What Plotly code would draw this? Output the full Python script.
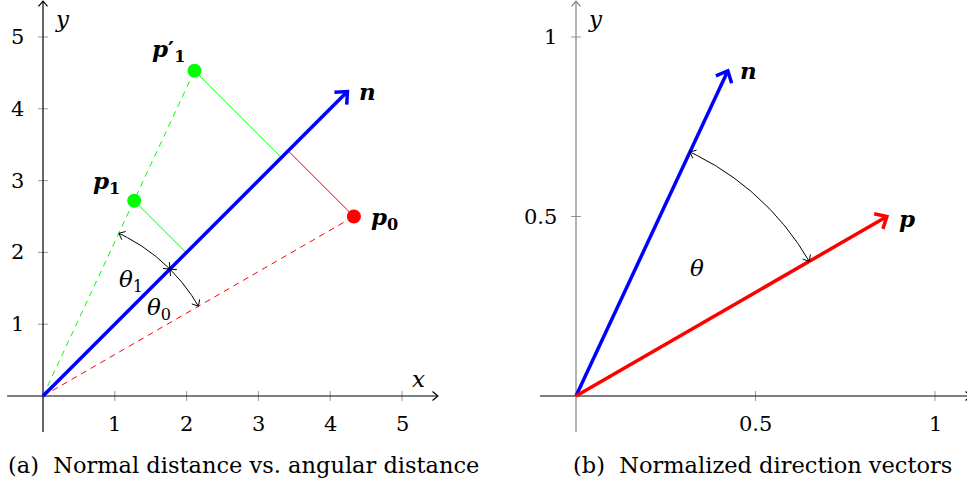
import numpy as np
import plotly.graph_objects as go

# ---------------- data ----------------
# (a) points in the plane and the direction n
p0 = (4.33, 2.50)
p1 = (1.27, 2.72)
p1_prime = (2.11, 4.53)
n_tip = (4.24, 4.24)
arc_radius_a = 2.5
arc_angles_a = [30, 45, 65]          # angle of p0, n, p1 (degrees)
ticks_a = [1, 2, 3, 4, 5]
axis_span_a = (-0.5, 5.5)

# (b) normalized direction vectors
n_hat = (0.423, 0.906)
p_hat = (0.866, 0.500)
arc_radius_b = 0.75
arc_angles_b = [30, 65]
ticks_b = [0.5, 1]
tick_labels_b = ["0.5", "1"]
axis_span_b = (-0.1, 1.1)

captions = ["(a)  Normal distance vs. angular distance",
            "(b)  Normalized direction vectors"]

# ---------------- styling ----------------
W, H = 967, 494
FONT = "DejaVu Serif"
FS = 23            # math labels
FS_TICK = 21
FS_CAP = 22.5
GREEN, RED, BLUE = "#00ff00", "#ff0000", "#0000ff"
GRAY = "#808080"
TICK_GRAY = "#999999"
DASH = "6px,5px"

# pixel layout of each panel: origin and pixels per unit
ORIGIN_A, SCALE_A = (43, 396), 71.8
ORIGIN_B, SCALE_B = (576, 396), 359.0
SPLIT = W / 2


def ranges(origin, scale, left_px, right_px):
    ox, oy = origin
    xr = [(left_px - ox) / scale, (right_px - ox) / scale]
    yr = [-(H - oy) / scale, oy / scale]
    return xr, yr


xr_a, yr_a = ranges(ORIGIN_A, SCALE_A, 0, SPLIT)
xr_b, yr_b = ranges(ORIGIN_B, SCALE_B, SPLIT, W)

fig = go.Figure()


def seg(x, y, xa, ya, color, width, dash="solid"):
    fig.add_trace(go.Scatter(x=x, y=y, xaxis=xa, yaxis=ya, mode="lines",
                             line=dict(color=color, width=width, dash=dash),
                             hoverinfo="skip", showlegend=False, cliponaxis=False))


def arrow_head(tip, ang_deg, length_px, scale, xa, ya, color, width, spread=38):
    """Open V-shaped arrow head at tip, pointing along ang_deg."""
    L = length_px / scale
    back = np.radians(ang_deg + 180)
    s = np.radians(spread)
    a1 = (tip[0] + L * np.cos(back + s), tip[1] + L * np.sin(back + s))
    a2 = (tip[0] + L * np.cos(back - s), tip[1] + L * np.sin(back - s))
    seg([a1[0], tip[0], a2[0]], [a1[1], tip[1], a2[1]], xa, ya, color, width)


def vector(tip, scale, xa, ya, color, width, head_px):
    seg([0, tip[0]], [0, tip[1]], xa, ya, color, width)
    ang = np.degrees(np.arctan2(tip[1], tip[0]))
    arrow_head(tip, ang, head_px, scale, xa, ya, color, width, spread=42)


def arc_both(r, a_from, a_to, scale, xa, ya):
    t = np.radians(np.linspace(a_from, a_to, 60))
    seg(r * np.cos(t), r * np.sin(t), xa, ya, "black", 1)
    sgn = 1 if a_to > a_from else -1
    for a, d in ((a_to, sgn), (a_from, -sgn)):
        tip = (r * np.cos(np.radians(a)), r * np.sin(np.radians(a)))
        arrow_head(tip, a + 90 * d, 7, scale, xa, ya, "black", 1, spread=40)


def text(x, y, s, xref, yref, dx=0, dy=0, anchor="center", size=FS):
    fig.add_annotation(x=x, y=y, xref=xref, yref=yref, text=s, showarrow=False,
                       xanchor=anchor, yanchor="middle", xshift=dx, yshift=dy,
                       font=dict(family=FONT, size=size, color="black"))


def axes(span, ticks, labels, scale, xa, ya, ycolor):
    lo, hi = span
    tl = 5 / scale
    for v in ticks:
        seg([v, v], [-tl, tl], xa, ya, TICK_GRAY, 1)
        seg([-tl, tl], [v, v], xa, ya, TICK_GRAY, 1)
    seg([lo, hi], [0, 0], xa, ya, "black", 1.2)
    arrow_head((hi, 0), 0, 7, scale, xa, ya, "black", 1.2, spread=40)
    seg([0, 0], [lo, hi], xa, ya, ycolor, 1.2)
    arrow_head((0, hi), 90, 7, scale, xa, ya, ycolor, 1.2, spread=40)
    for v, lab in zip(ticks, labels):
        text(v, 0, lab, xa, ya, dy=-28, size=FS_TICK)
        text(0, v, lab, xa, ya, dx=-17, anchor="right", size=FS_TICK)
    text(hi, 0, "<i>x</i>", xa, ya, dx=-19, dy=17)
    text(0, hi, "<i>y</i>", xa, ya, dx=19, dy=-18)


def foot(p, d):
    d = np.asarray(d, float)
    d = d / np.linalg.norm(d)
    return tuple(np.dot(p, d) * d)


# ---------------- panel (a) ----------------
XA, YA = "x", "y"
axes(axis_span_a, ticks_a, [str(t) for t in ticks_a], SCALE_A, XA, YA, "black")

# dashed rays from the origin
seg([0, p1_prime[0]], [0, p1_prime[1]], XA, YA, GREEN, 1, DASH)
seg([0, p0[0]], [0, p0[1]], XA, YA, RED, 1, DASH)

# perpendiculars to n
f0, f1, f1p = foot(p0, n_tip), foot(p1, n_tip), foot(p1_prime, n_tip)
seg([p1[0], f1[0]], [p1[1], f1[1]], XA, YA, GREEN, 1)
seg([p1_prime[0], f1p[0]], [p1_prime[1], f1p[1]], XA, YA, GREEN, 1)
seg([p0[0], f0[0]], [p0[1], f0[1]], XA, YA, RED, 1)

vector(n_tip, SCALE_A, XA, YA, BLUE, 3.5, 13)

# angle arcs
arc_both(arc_radius_a, arc_angles_a[1], arc_angles_a[2], SCALE_A, XA, YA)
arc_both(arc_radius_a, arc_angles_a[1], arc_angles_a[0], SCALE_A, XA, YA)

fig.add_trace(go.Scatter(x=[p1[0], p1_prime[0]], y=[p1[1], p1_prime[1]], xaxis=XA, yaxis=YA,
                         mode="markers", marker=dict(color=GREEN, size=14),
                         hoverinfo="skip", showlegend=False, cliponaxis=False))
fig.add_trace(go.Scatter(x=[p0[0]], y=[p0[1]], xaxis=XA, yaxis=YA,
                         mode="markers", marker=dict(color=RED, size=14),
                         hoverinfo="skip", showlegend=False, cliponaxis=False))

text(*p1_prime, "<b><i>p</i>′</b><sub><b>1</b></sub>", XA, YA, -26, 20)
text(*p1, "<b><i>p</i></b><sub><b>1</b></sub>", XA, YA, -28, 18)
text(*p0, "<b><i>p</i></b><sub><b>0</b></sub>", XA, YA, 31, -2)
text(*n_tip, "<b><i>n</i></b>", XA, YA, 20, 0)

m1 = np.radians((arc_angles_a[1] + arc_angles_a[2]) / 2 - 2)
m0 = np.radians((arc_angles_a[0] + arc_angles_a[1]) / 2)
text(2.0 * np.cos(m1), 2.0 * np.sin(m1), "<i>θ</i><sub>1</sub>", XA, YA, 2, 0)
text(2.0 * np.cos(m0), 2.0 * np.sin(m0), "<i>θ</i><sub>0</sub>", XA, YA, 2, 0)

# ---------------- panel (b) ----------------
XB, YB = "x2", "y2"
axes(axis_span_b, ticks_b, tick_labels_b, SCALE_B, XB, YB, GRAY)

vector(n_hat, SCALE_B, XB, YB, BLUE, 3.5, 13)
vector(p_hat, SCALE_B, XB, YB, RED, 3.5, 13)
arc_both(arc_radius_b, arc_angles_b[0], arc_angles_b[1], SCALE_B, XB, YB)

text(*n_hat, "<b><i>n</i></b>", XB, YB, 21, 0)
text(*p_hat, "<b><i>p</i></b>", XB, YB, 20, -2)
mb = np.radians(sum(arc_angles_b) / 2 - 1)
text(0.49 * np.cos(mb), 0.49 * np.sin(mb), "<i>θ</i>", XB, YB)

# ---------------- captions ----------------
text(243 / W, 1 - 465 / H, captions[0], "paper", "paper", size=FS_CAP)
text(762 / W, 1 - 465 / H, captions[1], "paper", "paper", size=FS_CAP)

hidden = dict(visible=False, showgrid=False, zeroline=False, fixedrange=True)
fig.update_layout(
    width=W, height=H,
    margin=dict(l=0, r=0, t=0, b=0),
    paper_bgcolor="white", plot_bgcolor="white",
    showlegend=False,
    xaxis=dict(domain=[0, SPLIT / W], range=xr_a, **hidden),
    yaxis=dict(domain=[0, 1], range=yr_a, anchor="x", **hidden),
    xaxis2=dict(domain=[SPLIT / W, 1], range=xr_b, anchor="y2", **hidden),
    yaxis2=dict(domain=[0, 1], range=yr_b, anchor="x2", **hidden),
)

fig.write_html("out.html")
